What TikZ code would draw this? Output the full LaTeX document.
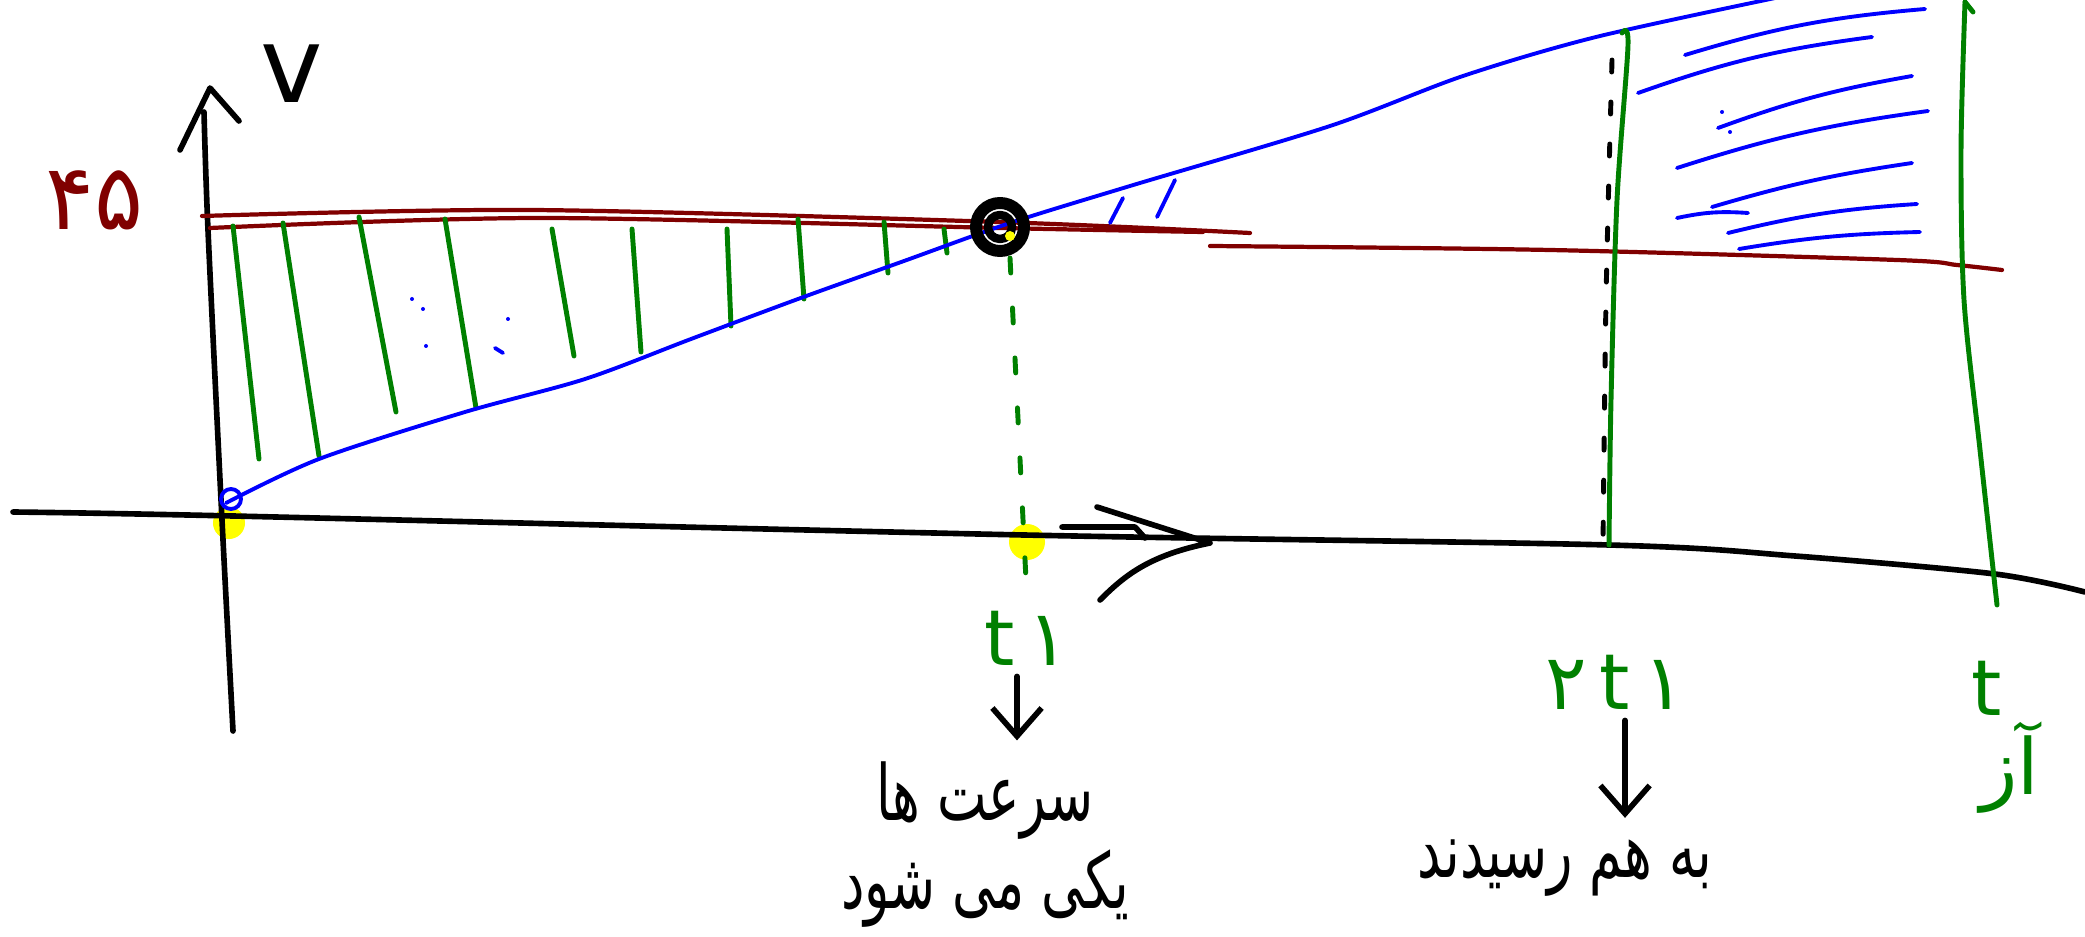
\documentclass[tikz,border=0pt]{standalone}
\usepackage{fontspec}
\setmainfont{DejaVu Sans}
\newfontfamily\farsi[Script=Arabic]{DejaVu Sans}
\newfontfamily\farsinarrow[Script=Arabic, FakeStretch=0.68]{DejaVu Sans}
\TeXXeTstate=1
\usetikzlibrary{arrows.meta}
\definecolor{penred}{RGB}{128,0,0}
\definecolor{pengreen}{RGB}{0,128,0}
\definecolor{penblue}{RGB}{0,0,255}
\definecolor{marker}{RGB}{255,255,0}
\tikzset{
  ink/.style={line width=1.6pt, line cap=round, line join=round},
  redink/.style={ink, draw=penred, line width=1.2pt},
  blueink/.style={ink, draw=penblue, line width=1.1pt},
  greenink/.style={ink, draw=pengreen, line width=1.4pt},
  greenlabel/.style={text=pengreen, font=\farsi\fontsize{22}{26}\selectfont, inner sep=1pt},
  blacklabel/.style={font=\farsinarrow\fontsize{22}{25}\selectfont, align=center, inner sep=1pt},
  pointer/.style={ink, -{Straight Barb[length=8pt,width=14pt]}, shorten <=2pt, shorten >=5pt}
}
\begin{document}
\begin{tikzpicture}[x=0.01cm,y=-0.01cm]
\useasboundingbox (0,0) rectangle (2085,937);
\fill[marker] (229,523) circle (0.16cm);
\fill[marker] (1027,542) circle (0.18cm);
\draw[ink] plot[smooth] coordinates {(13,512) (233,516) (1024,535) (1609,545) (1795,556) (1995,574) (2085,592)};
\draw[ink] (1062,527) -- (1135,527) -- (1145,538);
\draw[ink] (1097,507) -- (1210,543) .. controls (1150,555) and (1125,575) .. (1100,600);
\draw[ink] plot[smooth] coordinates {(233,731) (222,520) (208,230) (204,112)};
\draw[ink] (180,150) -- (210,88) -- (239,121);
\node[font=\fontsize{30}{32}\selectfont] (vlabel) at (292,74) {v};
\node[text=penred, font=\farsi\fontsize{26}{30}\selectfont] (vzero) at (95,200) {۴۵};
\draw[redink] plot[smooth] coordinates {(202,216) (532,210) (998,222) (1250,233)};
\draw[redink] plot[smooth] coordinates {(210,228) (540,218) (1000,228) (1203,232)};
\draw[redink] plot[smooth] coordinates {(1210,246) (1550,250) (1897,260) (1957,265) (2002,270)};
\draw[greenink] (233,226) -- (259,459);
\draw[greenink] (283,223) -- (319,456);
\draw[greenink] (359,217) -- (396,412);
\draw[greenink] (445,219) -- (476,408);
\draw[greenink] (552,229) -- (574,356);
\draw[greenink] (632,229) -- (641,352);
\draw[greenink] (727,229) -- (731,326);
\draw[greenink] (798,219) -- (804,299);
\draw[greenink] (884,222) -- (888,273);
\draw[greenink] (944,229) -- (947,253);
\fill[penblue] (412,299) circle (0.02cm) (423,309) circle (0.02cm) (426,346) circle (0.02cm) (508,319) circle (0.02cm);
\draw[blueink] (495,348) -- (503,353);
\draw[blueink] plot[smooth] coordinates {(226,503) (319,459) (465,412) (585,379) (691,339) (798,299) (904,261) (1010,223) (1130,186) (1330,126) (1463,76) (1596,37) (1780,-3)};
\draw[blueink] (231,499) circle (0.1cm);
\draw[blueink] (1110,223) -- (1123,198);
\draw[blueink] (1157,217) -- (1175,180);
\coordinate (meet) at (1000,227);
\draw[ink, line width=3.4pt] (meet) circle (0.24cm);
\draw[ink, line width=2.4pt] (meet) circle (0.12cm);
\fill[marker] (1010,236) circle (0.05cm);
\coordinate (dropstart) at (1010,258);
\coordinate (dropfoot) at (1027,600);
\draw[greenink, dash pattern=on 0.15cm off 0.35cm] (dropstart) -- (dropfoot);
\draw[blueink] (1685,55) to[bend left=6] (1925,9);
\draw[blueink] (1638,93) to[bend left=6] (1872,37);
\draw[blueink] (1718,128) to[bend left=5] (1912,76);
\draw[blueink] (1677,168) to[bend left=5] (1928,111);
\draw[blueink] (1712,207) to[bend left=4] (1912,163);
\draw[blueink] (1677,218) to[bend left=8] (1748,213);
\draw[blueink] (1728,233) to[bend left=5] (1917,204);
\draw[blueink] (1739,249) to[bend left=4] (1920,232);
\fill[penblue] (1722,112) circle (0.02cm) (1730,132) circle (0.02cm);
\draw[ink, line width=1.4pt, dash pattern=on 0.12cm off 0.3cm] plot[smooth] coordinates {(1612,60) (1606,300) (1603,545)};
\draw[greenink] plot[smooth] coordinates {(1622,33) (1628,45) (1617,200) (1611,400) (1609,545)};
\draw[greenink] plot[smooth] coordinates {(1965,2) (1961,150) (1964,300) (1980,450) (1997,605)};
\draw[greenink] (1965,2) -- (1973,12);
\node[greenlabel] (tone) at (1027,638) {t\,۱};
\node[blacklabel] (eqtext) at (985,845) {\beginR سرعت ها\endR\\\beginR یکی می شود\endR};
\draw[pointer] ([xshift=-0.1cm]tone.south) -- ([xshift=-0.1cm]tone.south |- eqtext.north);
\node[greenlabel] (twotone) at (1615,682) {۲\,t\,۱};
\node[blacklabel] (meettext) at (1565,868) {\beginR به هم رسیدند\endR};
\draw[pointer] ([xshift=0.1cm]twotone.south) -- ([xshift=0.1cm]twotone.south |- meettext.north);
\node[greenlabel] (tend) at (1987,688) {t};
\node[greenlabel] (tendsub) at (2010,768) {\beginR آز\endR};
\end{tikzpicture}
\end{document}
